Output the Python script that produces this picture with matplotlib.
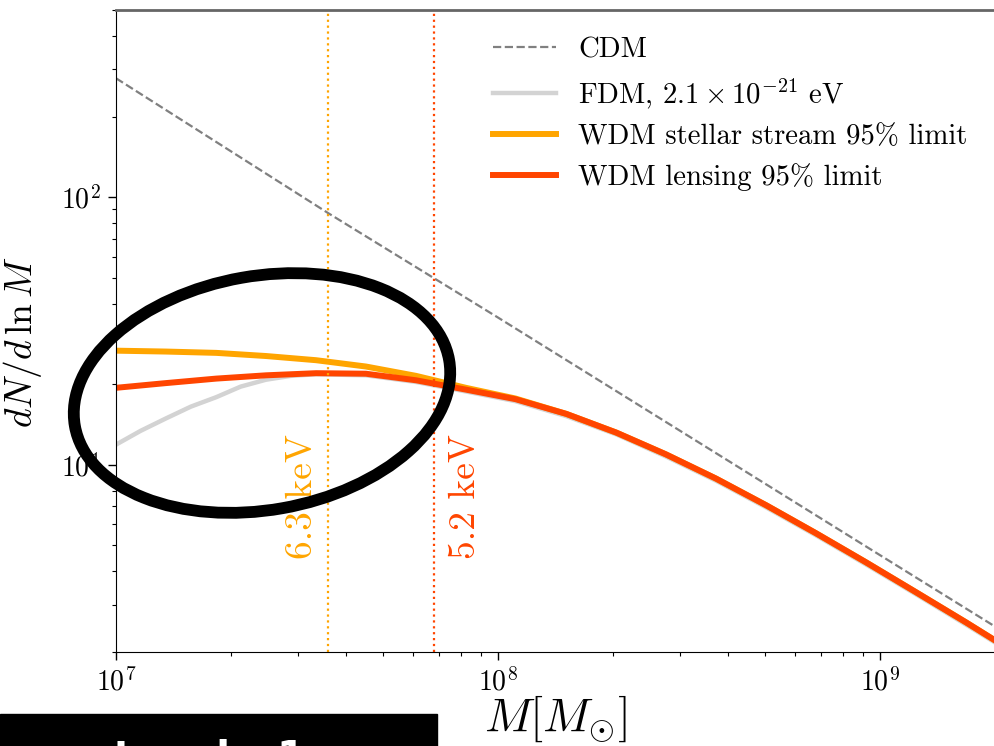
import numpy as np
import matplotlib
matplotlib.use("Agg")
import matplotlib.pyplot as plt
from matplotlib.patches import Ellipse, Rectangle

plt.rcParams["font.family"] = "serif"
plt.rcParams["font.serif"] = ["cmr10"]
plt.rcParams["mathtext.fontset"] = "cm"
plt.rcParams["axes.formatter.use_mathtext"] = True

# --- data ---
cdm_mass = [1e7, 3.6e7, 1e8, 1e9, 2e9]
cdm_dn = [278, 87, 35.5, 4.6, 2.49]

wdm_mass = [1.0e7, 1.35e7, 1.83e7, 2.47e7, 3.34e7, 4.51e7, 6.10e7, 8.24e7,
            1.11e8, 1.51e8, 2.04e8, 2.75e8, 3.72e8, 5.04e8, 6.79e8, 9.18e8,
            1.24e9, 1.68e9, 2.0e9]
lensing_dn = [19.4, 20.2, 21.0, 21.6, 22.0, 21.9, 20.7, 19.1,
              17.6, 15.5, 13.2, 10.95, 8.89, 7.06, 5.56, 4.33,
              3.35, 2.58, 2.21]
stream_dn = [26.7, 26.5, 26.2, 25.5, 24.6, 23.3, 21.5, 19.4,
             17.7, 15.5, 13.2, 10.95, 8.89, 7.06, 5.56, 4.33,
             3.35, 2.58, 2.21]

fdm_mass = [1.0e7, 1.16e7, 1.35e7, 1.57e7, 1.83e7, 2.12e7, 2.47e7, 2.87e7,
            3.34e7, 4.51e7, 6.10e7, 8.24e7, 1.11e8, 1.51e8, 2.04e8, 2.75e8,
            3.72e8, 5.04e8, 6.79e8, 9.18e8, 1.24e9, 1.68e9, 2.0e9]
fdm_dn = [11.9, 13.4, 14.9, 16.5, 17.9, 19.6, 20.8, 21.5,
          21.8, 21.6, 20.4, 18.8, 17.3, 15.2, 13.0, 10.75,
          8.73, 6.93, 5.46, 4.25, 3.29, 2.53, 2.17]

stream_limit_mass = 3.59e7
lensing_limit_mass = 6.79e7

fig = plt.figure(figsize=(9.95, 7.46), dpi=100)
ax = fig.add_axes([116 / 995, 94 / 746, 879 / 995, 642 / 746])

ax.plot(cdm_mass, cdm_dn, ls="--", color="gray", lw=1.6, label="CDM")
ax.plot(fdm_mass, fdm_dn, color="lightgray", lw=3.2,
        label=r"FDM, $2.1\times10^{-21}$ eV")
ax.plot(wdm_mass, stream_dn, color="orange", lw=4.3,
        label="WDM stellar stream 95% limit")
ax.plot(wdm_mass, lensing_dn, color="orangered", lw=4.3,
        label="WDM lensing 95% limit")

ax.axvline(stream_limit_mass, color="orange", ls=":", lw=1.6)
ax.axvline(lensing_limit_mass, color="orangered", ls=":", lw=1.6)
ax.text(3.07e7, 7.6, "6.3 keV", color="orange", rotation=90,
        ha="center", va="center", fontsize=27)
ax.text(8.2e7, 7.6, "5.2 keV", color="orangered", rotation=90,
        ha="center", va="center", fontsize=27)

ax.set_xscale("log")
ax.set_yscale("log")
ax.set_xlim(1e7, 2e9)
ax.set_ylim(2, 500)

ax.tick_params(which="major", length=6, width=1, labelsize=20, pad=5)
ax.tick_params(which="minor", length=3, width=0.8)
ax.spines["top"].set_color("#666666")
ax.spines["top"].set_linewidth(2)
ax.spines["right"].set_color("#bbbbbb")

ax.set_xlabel(r"$M[M_{\odot}]$", fontsize=34)
ax.xaxis.set_label_coords(0.5, -0.065)
ax.set_ylabel(r"$dN/d\,\ln M$", fontsize=27)
ax.yaxis.set_label_coords(-0.082, 0.483)

ax.legend(loc="upper left", bbox_to_anchor=(0.429, 0.958), frameon=False,
          fontsize=20.7, handlelength=2.2, handletextpad=0.75,
          labelspacing=0.45, borderpad=0, borderaxespad=0)

# hand-drawn highlight ellipse over the low-mass end
fig.patches.append(Ellipse((2.62, 3.53), 3.80, 2.34, angle=10, fill=False,
                           ec="black", lw=8.5, transform=fig.dpi_scale_trans,
                           figure=fig))

# cut-off caption box at the bottom
box = Rectangle((0, 0), 437 / 995, 32 / 746, color="black",
                transform=fig.transFigure, figure=fig)
fig.patches.append(box)
caption = fig.text(5 / 995, -24 / 746, "sum tonelar1", color="white",
                   fontsize=29, fontweight="bold", family="DejaVu Sans",
                   ha="left", va="baseline")
caption.set_clip_path(box)

fig.savefig("out.png", dpi=100)
